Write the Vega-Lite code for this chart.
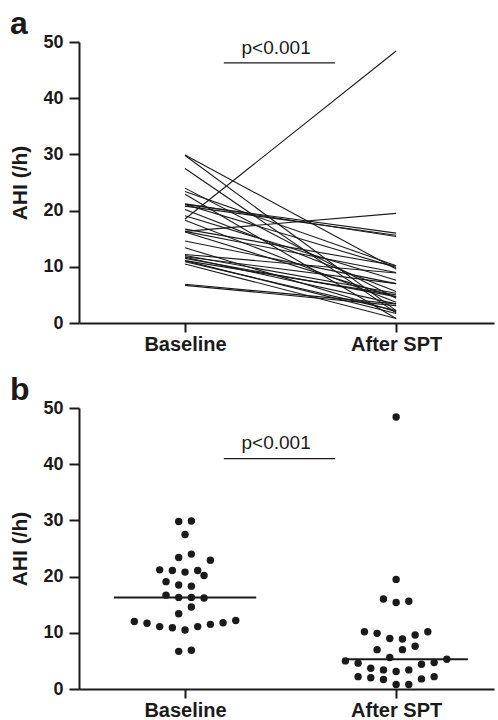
{
  "$schema": "https://vega.github.io/schema/vega-lite/v6.json",
  "padding": {"left": 9, "top": 8, "right": 5, "bottom": 0},
  "datasets": {
    "pairs": [
      {"id": 1, "Baseline": 29.9, "After SPT": 9.6},
      {"id": 2, "Baseline": 29.8, "After SPT": 2.2},
      {"id": 3, "Baseline": 27.5, "After SPT": 1.8},
      {"id": 4, "Baseline": 24.0, "After SPT": 4.4},
      {"id": 5, "Baseline": 23.4, "After SPT": 10.2},
      {"id": 6, "Baseline": 22.9, "After SPT": 0.8},
      {"id": 7, "Baseline": 21.2, "After SPT": 15.4},
      {"id": 8, "Baseline": 21.1, "After SPT": 16.0},
      {"id": 9, "Baseline": 21.1, "After SPT": 9.9},
      {"id": 10, "Baseline": 20.8, "After SPT": 15.6},
      {"id": 11, "Baseline": 20.2, "After SPT": 5.6},
      {"id": 12, "Baseline": 19.1, "After SPT": 7.6},
      {"id": 13, "Baseline": 18.5, "After SPT": 48.4},
      {"id": 14, "Baseline": 18.3, "After SPT": 3.7},
      {"id": 15, "Baseline": 16.7, "After SPT": 10.2},
      {"id": 16, "Baseline": 16.3, "After SPT": 19.5},
      {"id": 17, "Baseline": 16.3, "After SPT": 9.0},
      {"id": 18, "Baseline": 16.2, "After SPT": 4.6},
      {"id": 19, "Baseline": 14.6, "After SPT": 7.0},
      {"id": 20, "Baseline": 13.4, "After SPT": 2.0},
      {"id": 21, "Baseline": 12.2, "After SPT": 8.9},
      {"id": 22, "Baseline": 12.0, "After SPT": 5.3},
      {"id": 23, "Baseline": 11.8, "After SPT": 7.0},
      {"id": 24, "Baseline": 11.7, "After SPT": 3.4},
      {"id": 25, "Baseline": 11.5, "After SPT": 4.7},
      {"id": 26, "Baseline": 11.1, "After SPT": 1.7},
      {"id": 27, "Baseline": 11.1, "After SPT": 5.0},
      {"id": 28, "Baseline": 10.9, "After SPT": 2.2},
      {"id": 29, "Baseline": 10.5, "After SPT": 0.8},
      {"id": 30, "Baseline": 6.9, "After SPT": 3.4},
      {"id": 31, "Baseline": 6.7, "After SPT": 3.1}
    ],
    "dots": [
      {"group": "Baseline", "ahi": 29.8, "col": -0.5},
      {"group": "Baseline", "ahi": 29.9, "col": 0.5},
      {"group": "Baseline", "ahi": 27.5, "col": 0},
      {"group": "Baseline", "ahi": 23.4, "col": -0.5},
      {"group": "Baseline", "ahi": 24.0, "col": 0.5},
      {"group": "Baseline", "ahi": 22.9, "col": 2},
      {"group": "Baseline", "ahi": 21.2, "col": -2},
      {"group": "Baseline", "ahi": 21.1, "col": -1},
      {"group": "Baseline", "ahi": 20.8, "col": 0},
      {"group": "Baseline", "ahi": 21.1, "col": 1},
      {"group": "Baseline", "ahi": 20.2, "col": 1.5},
      {"group": "Baseline", "ahi": 19.1, "col": -1.5},
      {"group": "Baseline", "ahi": 18.5, "col": -0.5},
      {"group": "Baseline", "ahi": 18.3, "col": 0.5},
      {"group": "Baseline", "ahi": 16.7, "col": -1.5},
      {"group": "Baseline", "ahi": 16.3, "col": -0.5},
      {"group": "Baseline", "ahi": 16.3, "col": 0.5},
      {"group": "Baseline", "ahi": 16.2, "col": 1.5},
      {"group": "Baseline", "ahi": 14.6, "col": 0.5},
      {"group": "Baseline", "ahi": 13.4, "col": -0.5},
      {"group": "Baseline", "ahi": 12.0, "col": -4},
      {"group": "Baseline", "ahi": 11.7, "col": -3},
      {"group": "Baseline", "ahi": 11.1, "col": -2},
      {"group": "Baseline", "ahi": 10.9, "col": -1},
      {"group": "Baseline", "ahi": 10.5, "col": 0},
      {"group": "Baseline", "ahi": 11.1, "col": 1},
      {"group": "Baseline", "ahi": 11.5, "col": 2},
      {"group": "Baseline", "ahi": 11.8, "col": 3},
      {"group": "Baseline", "ahi": 12.2, "col": 4},
      {"group": "Baseline", "ahi": 6.7, "col": -0.5},
      {"group": "Baseline", "ahi": 6.9, "col": 0.5},
      {"group": "After SPT", "ahi": 48.4, "col": 0},
      {"group": "After SPT", "ahi": 19.5, "col": 0},
      {"group": "After SPT", "ahi": 16.0, "col": -1},
      {"group": "After SPT", "ahi": 15.4, "col": 0},
      {"group": "After SPT", "ahi": 15.6, "col": 1},
      {"group": "After SPT", "ahi": 10.2, "col": -2.5},
      {"group": "After SPT", "ahi": 9.9, "col": -1.5},
      {"group": "After SPT", "ahi": 9.0, "col": -0.5},
      {"group": "After SPT", "ahi": 8.9, "col": 0.5},
      {"group": "After SPT", "ahi": 9.6, "col": 1.5},
      {"group": "After SPT", "ahi": 10.2, "col": 2.5},
      {"group": "After SPT", "ahi": 7.0, "col": -1.5},
      {"group": "After SPT", "ahi": 7.0, "col": 0.5},
      {"group": "After SPT", "ahi": 7.6, "col": 1.5},
      {"group": "After SPT", "ahi": 5.0, "col": -4},
      {"group": "After SPT", "ahi": 5.6, "col": -0.5},
      {"group": "After SPT", "ahi": 5.3, "col": 4},
      {"group": "After SPT", "ahi": 4.6, "col": -3},
      {"group": "After SPT", "ahi": 4.4, "col": 2},
      {"group": "After SPT", "ahi": 4.7, "col": 3},
      {"group": "After SPT", "ahi": 3.7, "col": -2},
      {"group": "After SPT", "ahi": 3.4, "col": -1},
      {"group": "After SPT", "ahi": 3.1, "col": 0},
      {"group": "After SPT", "ahi": 3.4, "col": 1},
      {"group": "After SPT", "ahi": 2.2, "col": -3},
      {"group": "After SPT", "ahi": 2.0, "col": -2},
      {"group": "After SPT", "ahi": 1.7, "col": -1},
      {"group": "After SPT", "ahi": 1.8, "col": 2},
      {"group": "After SPT", "ahi": 2.2, "col": 3},
      {"group": "After SPT", "ahi": 0.8, "col": 0},
      {"group": "After SPT", "ahi": 0.8, "col": 1}
    ]
  },
  "config": {
    "font": "Liberation Sans",
    "view": {"stroke": null},
    "axis": {
      "grid": false,
      "domainColor": "#1a1a1a",
      "domainWidth": 2,
      "tickColor": "#1a1a1a",
      "tickWidth": 2,
      "labelFont": "Liberation Sans",
      "labelFontWeight": "bold",
      "labelColor": "#1a1a1a",
      "titleFont": "Liberation Sans",
      "titleFontWeight": "bold",
      "titleColor": "#1a1a1a"
    },
    "axisX": {"tickSize": 9, "labelFontSize": 20, "labelPadding": 2, "labelAngle": 0, "title": null},
    "axisY": {"tickSize": 10, "labelFontSize": 18, "labelPadding": 6, "titleFontSize": 21, "titlePadding": 12},
    "title": {"anchor": "start", "frame": "bounds", "fontSize": 32, "fontWeight": "bold", "color": "#1a1a1a", "font": "Liberation Sans", "offset": -8}
  },
  "spacing": 20,
  "vconcat": [
    {
      "width": 415,
      "height": 281,
      "title": {"text": "a"},
      "resolve": {"scale": {"x": "independent"}},
      "layer": [
        {
          "data": {"name": "pairs"},
          "transform": [{"fold": ["Baseline", "After SPT"], "as": ["time", "ahi"]}],
          "mark": {"type": "line", "color": "#1a1a1a", "strokeWidth": 1.1},
          "encoding": {
            "x": {"field": "time", "type": "nominal", "sort": ["Baseline", "After SPT"],
                  "scale": {"type": "point", "padding": 0.483, "align": 0.52},
                  "axis": {"title": null}},
            "y": {"field": "ahi", "type": "quantitative", "scale": {"domain": [0, 50], "nice": false},
                  "axis": {"title": "AHI (/h)", "values": [0, 10, 20, 30, 40, 50]}},
            "detail": {"field": "id", "type": "nominal"}
          }
        },
        {
          "data": {"values": [{}]},
          "mark": {"type": "rule", "color": "#1a1a1a", "strokeWidth": 1.2},
          "encoding": {
            "x": {"datum": 0.349, "type": "quantitative", "scale": {"domain": [0, 1]}, "axis": null},
            "x2": {"datum": 0.617},
            "y": {"datum": 46.3, "type": "quantitative"}
          }
        },
        {
          "data": {"values": [{}]},
          "mark": {"type": "text", "text": "p<0.001", "fontSize": 19, "fontWeight": "normal", "baseline": "alphabetic", "color": "#1a1a1a", "font": "Liberation Sans"},
          "encoding": {
            "x": {"datum": 0.475, "type": "quantitative", "scale": {"domain": [0, 1]}, "axis": null},
            "y": {"datum": 47.9, "type": "quantitative"}
          }
        }
      ]
    },
    {
      "width": 415,
      "height": 281,
      "title": {"text": "b"},
      "resolve": {"scale": {"x": "independent"}},
      "layer": [
        {
          "data": {"name": "dots"},
          "mark": {"type": "circle", "size": 55, "color": "#1a1a1a", "opacity": 1},
          "encoding": {
            "x": {"field": "group", "type": "nominal", "sort": ["Baseline", "After SPT"],
                  "scale": {"type": "point", "padding": 0.483, "align": 0.52},
                  "axis": {"title": null}},
            "xOffset": {"field": "col", "type": "quantitative", "scale": {"domain": [-4, 4], "range": [-50.7, 50.7]}},
            "y": {"field": "ahi", "type": "quantitative", "scale": {"domain": [0, 50], "nice": false},
                  "axis": {"title": "AHI (/h)", "values": [0, 10, 20, 30, 40, 50]}}
          }
        },
        {
          "data": {"name": "dots"},
          "transform": [
            {"filter": "datum.group === 'Baseline'"},
            {"aggregate": [{"op": "median", "field": "ahi", "as": "med"}]}
          ],
          "mark": {"type": "rule", "color": "#1a1a1a", "strokeWidth": 2},
          "encoding": {
            "x": {"datum": 0.084, "type": "quantitative", "scale": {"domain": [0, 1]}, "axis": null},
            "x2": {"datum": 0.427},
            "y": {"field": "med", "type": "quantitative"}
          }
        },
        {
          "data": {"name": "dots"},
          "transform": [
            {"filter": "datum.group === 'After SPT'"},
            {"aggregate": [{"op": "median", "field": "ahi", "as": "med"}]}
          ],
          "mark": {"type": "rule", "color": "#1a1a1a", "strokeWidth": 2},
          "encoding": {
            "x": {"datum": 0.639, "type": "quantitative", "scale": {"domain": [0, 1]}, "axis": null},
            "x2": {"datum": 0.937},
            "y": {"field": "med", "type": "quantitative"}
          }
        },
        {
          "data": {"values": [{}]},
          "mark": {"type": "rule", "color": "#1a1a1a", "strokeWidth": 1.2},
          "encoding": {
            "x": {"datum": 0.349, "type": "quantitative", "scale": {"domain": [0, 1]}, "axis": null},
            "x2": {"datum": 0.617},
            "y": {"datum": 41.0, "type": "quantitative"}
          }
        },
        {
          "data": {"values": [{}]},
          "mark": {"type": "text", "text": "p<0.001", "fontSize": 19, "fontWeight": "normal", "baseline": "alphabetic", "color": "#1a1a1a", "font": "Liberation Sans"},
          "encoding": {
            "x": {"datum": 0.475, "type": "quantitative", "scale": {"domain": [0, 1]}, "axis": null},
            "y": {"datum": 42.7, "type": "quantitative"}
          }
        }
      ]
    }
  ]
}
